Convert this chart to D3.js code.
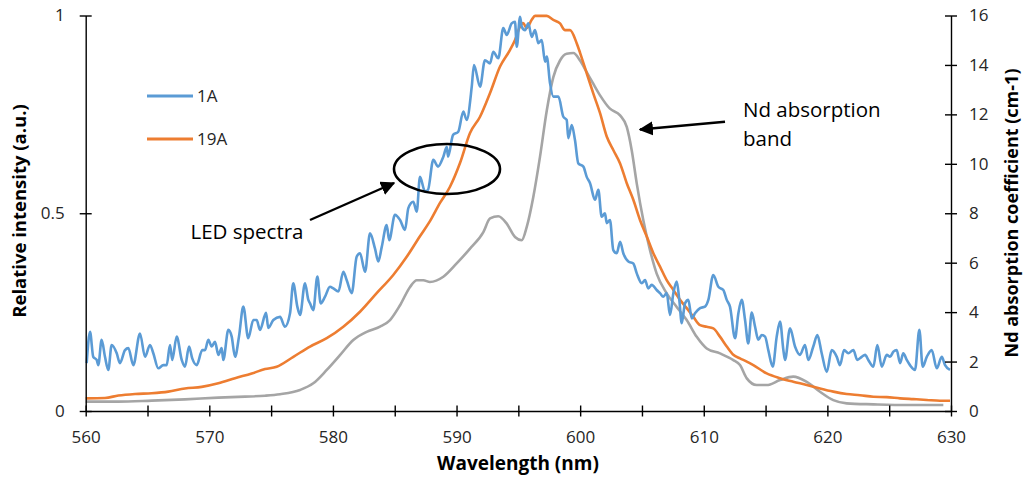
<!DOCTYPE html>
<html><head><meta charset="utf-8">
<script src="https://cdn.jsdelivr.net/npm/d3@7"></script>
<style>
body{margin:0;background:#fff;}
svg{display:block;font-family:"Open Sans",sans-serif;}
</style></head>
<body><svg id="c" width="1024" height="477"></svg>
<script>
// ---- data ----
const xTicks = [560,570,580,590,600,610,620,630];
const yLeftTicks = [0,0.5,1];
const yRightTicks = [0,2,4,6,8,10,12,14,16];
const seriesNames = ["1A","19A"];

const wl1A = [560.08,560.35,560.61,560.89,561.02,561.29,561.56,561.83,562.10,562.51,562.77,563.18,563.45,563.85,564.39,564.80,565.20,565.47,565.87,566.28,566.55,566.82,567.0,567.36,567.77,568.03,568.36,568.62,568.98,569.43,569.65,569.92,570.19,570.46,570.73,571.0,571.13,571.54,571.81,572.08,572.40,572.75,573.15,573.56,573.83,574.10,574.59,574.77,575.18,575.72,576.12,576.53,576.79,577.12,577.34,577.74,578.01,578.15,578.41,578.74,579.01,579.36,579.76,580.03,580.44,580.84,581.11,581.52,581.92,582.19,582.60,583.0,583.40,583.67,583.95,584.35,584.55,585.02,585.43,585.83,586.10,586.50,586.78,587.04,587.45,587.69,588.12,588.50,588.93,589.21,589.31,589.72,590.14,590.55,590.82,591.23,591.41,591.90,592.30,592.71,592.97,593.38,593.78,594.06,594.46,594.73,594.87,595.14,595.27,595.54,595.81,596.08,596.35,596.62,596.89,597.16,597.30,597.56,597.83,598.24,598.64,598.91,599.04,599.32,599.58,599.85,600.26,600.53,600.80,601.20,601.47,601.74,602.01,602.15,602.41,602.68,602.96,603.23,603.49,603.90,604.30,604.58,604.98,605.25,605.51,605.79,606.19,606.46,606.73,607.0,607.27,607.54,607.81,608.02,608.22,608.48,608.75,609.03,609.29,609.70,610.10,610.37,610.77,611.18,611.58,611.86,612.12,612.53,612.80,613.07,613.34,613.60,613.88,614.15,614.41,614.69,614.96,615.22,615.58,615.90,616.17,616.44,616.57,616.98,617.38,617.78,618.19,618.46,618.86,619.19,619.54,619.95,620.35,620.76,621.02,621.35,621.69,622.10,622.42,622.78,623.05,623.31,623.72,624.04,624.40,624.80,625.07,625.34,625.61,625.88,626.14,626.42,626.68,627.09,627.44,627.71,628.04,628.44,628.85,629.25,629.52,629.92];
const val1A = [0.121,0.200,0.137,0.129,0.116,0.180,0.137,0.104,0.167,0.146,0.121,0.154,0.159,0.116,0.196,0.137,0.167,0.146,0.108,0.116,0.116,0.167,0.129,0.188,0.129,0.112,0.163,0.133,0.116,0.154,0.154,0.180,0.163,0.175,0.142,0.159,0.129,0.205,0.188,0.137,0.188,0.264,0.184,0.230,0.230,0.205,0.248,0.210,0.230,0.238,0.213,0.247,0.323,0.264,0.243,0.323,0.281,0.272,0.255,0.340,0.272,0.289,0.314,0.310,0.302,0.352,0.331,0.298,0.390,0.399,0.352,0.449,0.411,0.378,0.415,0.470,0.432,0.496,0.483,0.458,0.513,0.529,0.504,0.592,0.555,0.559,0.635,0.618,0.643,0.668,0.643,0.698,0.706,0.757,0.736,0.820,0.875,0.820,0.887,0.879,0.908,0.892,0.968,0.951,0.980,0.984,0.921,0.997,0.972,0.963,0.980,0.946,0.963,0.930,0.938,0.883,0.896,0.829,0.795,0.795,0.744,0.736,0.690,0.723,0.685,0.626,0.618,0.592,0.576,0.534,0.559,0.491,0.500,0.475,0.483,0.407,0.399,0.428,0.399,0.378,0.373,0.348,0.323,0.331,0.310,0.319,0.306,0.298,0.289,0.298,0.243,0.298,0.327,0.281,0.222,0.272,0.281,0.234,0.247,0.260,0.264,0.281,0.344,0.314,0.306,0.281,0.264,0.184,0.247,0.281,0.230,0.171,0.249,0.213,0.180,0.192,0.188,0.154,0.112,0.188,0.226,0.154,0.129,0.209,0.163,0.142,0.167,0.129,0.163,0.192,0.146,0.099,0.154,0.137,0.116,0.154,0.146,0.154,0.129,0.137,0.142,0.129,0.112,0.167,0.112,0.142,0.137,0.150,0.154,0.121,0.146,0.129,0.116,0.104,0.205,0.112,0.137,0.154,0.108,0.137,0.116,0.104];

const wl19A = [560,561.56,562.64,563.99,565.34,566.68,568.03,569.38,570.73,572.08,573.43,574.51,575.45,576.80,578.15,579.50,580.84,582.19,583.54,584.88,585.97,587.04,587.85,588.66,589.47,590.28,591.09,591.90,592.71,593.52,594.33,594.73,595.14,595.38,595.68,596.08,596.35,597.30,597.83,598.37,598.78,599.18,599.72,600.0,600.53,601.06,601.61,602.15,602.68,603.23,603.77,604.30,604.84,605.39,605.92,606.46,607.0,607.54,608.08,608.62,609.16,609.70,610.24,610.77,611.31,611.86,612.39,612.93,613.48,614.01,615.09,616.17,617.24,618.33,619.40,620.48,621.56,622.64,623.72,624.80,625.88,626.95,628.04,629.11,629.92];
const val19A = [0.032,0.033,0.039,0.043,0.045,0.049,0.057,0.061,0.070,0.083,0.095,0.106,0.112,0.137,0.163,0.184,0.213,0.251,0.298,0.344,0.390,0.442,0.480,0.526,0.567,0.627,0.703,0.744,0.804,0.871,0.913,0.938,0.972,0.981,0.968,0.989,0.999,0.999,0.989,0.980,0.963,0.963,0.930,0.905,0.854,0.803,0.753,0.694,0.660,0.626,0.576,0.534,0.483,0.441,0.399,0.365,0.331,0.306,0.281,0.260,0.238,0.217,0.213,0.209,0.188,0.163,0.142,0.133,0.125,0.116,0.095,0.083,0.074,0.066,0.057,0.049,0.043,0.040,0.036,0.035,0.032,0.030,0.028,0.026,0.026];

const wlNd = [560,562.61,565.34,568.03,570.73,572.89,574.51,575.72,577.34,578.41,579.50,580.57,581.65,582.73,583.81,584.62,585.43,586.24,586.78,587.31,587.85,588.93,590.01,591.09,592.17,592.71,593.38,594.06,594.73,595.27,595.68,596.21,596.75,597.30,597.83,598.37,598.91,599.45,599.99,600.53,601.06,601.61,602.41,603.23,603.77,604.17,604.58,605.11,605.65,606.19,607.0,607.81,608.62,609.43,610.24,611.31,612.39,612.93,613.48,614.28,615.09,616.17,617.24,618.33,619.40,620.48,621.56,623.72,626.42,629.38];
const valNd = [0.38,0.38,0.42,0.47,0.54,0.58,0.62,0.68,0.85,1.12,1.66,2.26,2.87,3.20,3.41,3.68,4.28,5.02,5.29,5.29,5.22,5.43,5.97,6.57,7.24,7.79,7.88,7.58,7.04,6.91,7.45,8.66,10.28,12.16,13.51,14.18,14.45,14.48,14.18,13.71,13.24,12.77,12.23,11.96,11.49,10.55,9.20,7.72,6.51,5.56,4.76,4.21,3.68,3.00,2.53,2.33,2.06,1.86,1.32,1.05,1.05,1.25,1.39,1.18,0.78,0.44,0.31,0.27,0.24,0.24];

// ---- layout ----
const svg = d3.select("#c");
const L = 85.7, R = 951, T = 15.5, B = 411;
const x = d3.scaleLinear().domain([560,630]).range([L,R]);
const yL = d3.scaleLinear().domain([0,1]).range([B,T]);
const yR = d3.scaleLinear().domain([0,16]).range([B,T]);

const blue = "#5B9BD5", orange = "#ED7D31", gray = "#A5A5A5";

function pts(w,v){ return w.map((d,i)=>[d,v[i]]); }
const lineL = d3.line().x(d=>x(d[0])).y(d=>yL(d[1])).curve(d3.curveMonotoneX);
const lineR = d3.line().x(d=>x(d[0])).y(d=>yR(d[1])).curve(d3.curveMonotoneX);

svg.append("path").attr("d", lineR(pts(wlNd,valNd))).attr("fill","none").attr("stroke",gray).attr("stroke-width",2.6).attr("stroke-linejoin","round");
svg.append("path").attr("d", lineL(pts(wl19A,val19A))).attr("fill","none").attr("stroke",orange).attr("stroke-width",2.6).attr("stroke-linejoin","round");
svg.append("path").attr("d", lineL(pts(wl1A,val1A))).attr("fill","none").attr("stroke",blue).attr("stroke-width",2.6).attr("stroke-linejoin","round");

// ---- axes ----
const axCol = "#000";
function styleAxis(g){
  g.select(".domain").attr("stroke",axCol).attr("stroke-width",1.4);
  g.selectAll(".tick line").attr("stroke",axCol).attr("stroke-width",1.4);
  g.selectAll(".tick text").attr("fill","#262626").style("font-family","'Open Sans',sans-serif");
}
// bottom
const xMinor = d3.range(560,631,5);
const gx = svg.append("g").attr("transform",`translate(0,${B})`)
  .call(d3.axisBottom(x).tickValues(xMinor).tickSizeOuter(0).tickFormat(d=> xTicks.includes(d)? d : ""));
styleAxis(gx);
gx.selectAll(".tick line").attr("y1",-5.5).attr("y2",5.5);
gx.selectAll(".tick text").attr("y",20).attr("dy","0.71em").style("font-size","17px");

// left
const gl = svg.append("g").attr("transform",`translate(${L},0)`)
  .call(d3.axisLeft(yL).tickValues(yLeftTicks).tickSizeOuter(0).tickFormat(d=>String(d)));
styleAxis(gl);
gl.selectAll(".tick line").attr("x1",-6).attr("x2",6);
gl.selectAll(".tick text").attr("x",-21).style("font-size","17px");

// right
const gr = svg.append("g").attr("transform",`translate(${R},0)`)
  .call(d3.axisRight(yR).tickValues(yRightTicks).tickSizeOuter(0).tickFormat(d=>String(d)));
styleAxis(gr);
gr.selectAll(".tick line").attr("x1",-6).attr("x2",6);
gr.selectAll(".tick text").attr("x",18).style("font-size","17px");

// titles
svg.append("text").attr("x",518).attr("y",470).attr("text-anchor","middle")
  .style("font-size","19px").style("font-weight","bold").attr("fill","#000").text("Wavelength (nm)");
svg.append("text").attr("transform",`translate(26,211) rotate(-90)`).attr("text-anchor","middle")
  .style("font-size","18.5px").style("font-weight","bold").attr("fill","#000").text("Relative intensity (a.u.)");
svg.append("text").attr("transform",`translate(1018,213) rotate(-90)`).attr("text-anchor","middle")
  .style("font-size","18px").style("font-weight","bold").attr("fill","#000").text("Nd absorption coefficient (cm-1)");

// legend
const leg = svg.append("g");
[[blue,96],[orange,139]].forEach((c,i)=>{
  leg.append("line").attr("x1",147).attr("x2",193).attr("y1",c[1]).attr("y2",c[1]).attr("stroke",c[0]).attr("stroke-width",2.8);
  leg.append("text").attr("x",197).attr("y",c[1]).attr("dy","0.35em").style("font-size","17px").attr("fill","#262626").text(seriesNames[i]);
});

// annotations
const defs = svg.append("defs");
defs.append("marker").attr("id","ah").attr("viewBox","0 0 10 10").attr("refX",9).attr("refY",5)
  .attr("markerWidth",6).attr("markerHeight",6).attr("markerUnits","strokeWidth").attr("orient","auto")
  .append("path").attr("d","M0,0 L10,5 L0,10 Z").attr("fill","#000");
svg.append("ellipse").attr("cx",447).attr("cy",169).attr("rx",53).attr("ry",25)
  .attr("fill","none").attr("stroke","#000").attr("stroke-width",2.6);
svg.append("line").attr("x1",310).attr("y1",220).attr("x2",394).attr("y2",183)
  .attr("stroke","#000").attr("stroke-width",2.4).attr("marker-end","url(#ah)");
svg.append("line").attr("x1",725).attr("y1",121.7).attr("x2",640).attr("y2",129.5)
  .attr("stroke","#000").attr("stroke-width",2.4).attr("marker-end","url(#ah)");
svg.append("text").attr("x",190.5).attr("y",239).style("font-size","20.5px").attr("fill","#000").text("LED spectra");
svg.append("text").attr("x",743).attr("y",117).style("font-size","20.5px").attr("fill","#000").text("Nd absorption");
svg.append("text").attr("x",743).attr("y",146).style("font-size","20.5px").attr("fill","#000").text("band");
</script></body></html>
